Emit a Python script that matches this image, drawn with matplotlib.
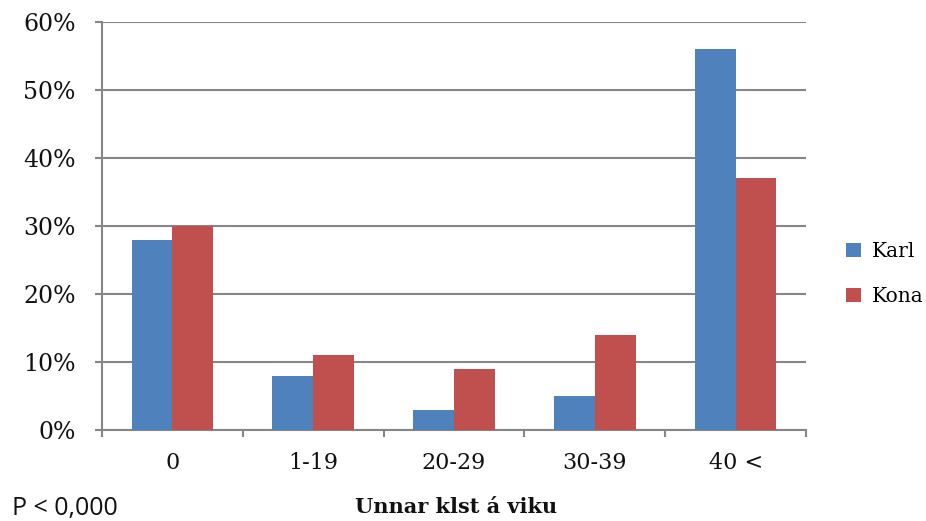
import matplotlib
matplotlib.use("Agg")
import matplotlib.pyplot as plt
import numpy as np
from matplotlib.ticker import FuncFormatter, FixedLocator, NullFormatter

categories = ["0", "1-19", "20-29", "30-39", "40 <"]
karl = [0.28, 0.08, 0.03, 0.05, 0.56]
kona = [0.30, 0.11, 0.09, 0.14, 0.37]
series_names = ["Karl", "Kona"]
y_ticks = [0.0, 0.1, 0.2, 0.3, 0.4, 0.5, 0.6]

BLUE = "#4F81BD"
RED = "#C0504D"
GREY = "#868686"
SERIF = ["DejaVu Serif"]

fig = plt.figure(figsize=(9.26, 5.21), dpi=100)
ax = fig.add_axes([102 / 926, 1 - 430 / 521, (806 - 102) / 926, (430 - 22) / 521])

x = np.arange(len(categories))
w = 0.29
ax.bar(x - w / 2, karl, width=w, color=BLUE, label=series_names[0], zorder=3)
ax.bar(x + w / 2, kona, width=w, color=RED, label=series_names[1], zorder=3)

ax.set_xlim(-0.5, len(categories) - 0.5)
ax.set_ylim(0, 0.6)

ax.yaxis.set_major_locator(FixedLocator(y_ticks))
ax.yaxis.set_major_formatter(FuncFormatter(lambda v, p: f"{v * 100:.0f}%"))
ax.grid(axis="y", color=GREY, linewidth=1.5, zorder=0)

# category labels centred, tick marks on the category boundaries
ax.set_xticks(x)
ax.set_xticklabels(categories)
ax.xaxis.set_minor_locator(FixedLocator(np.arange(-0.5, len(categories), 1.0)))
ax.xaxis.set_minor_formatter(NullFormatter())
ax.tick_params(axis="x", which="major", length=0, pad=16)
ax.tick_params(axis="x", which="minor", length=5, width=1.5, color=GREY, direction="out")
ax.tick_params(axis="y", length=5, width=1.5, color=GREY, direction="out", pad=14)

for lab in ax.get_xticklabels():
    lab.set_family(SERIF)
    lab.set_fontsize(16)
    lab.set_color("#111111")
for lab in ax.get_yticklabels():
    lab.set_family(SERIF)
    lab.set_fontsize(17)
    lab.set_color("#111111")

for s in ("top", "right"):
    ax.spines[s].set_visible(False)
for s in ("left", "bottom"):
    ax.spines[s].set_color(GREY)
    ax.spines[s].set_linewidth(1.5)

fig.legend(loc="upper left", bbox_to_anchor=(836 / 926, 1 - 232 / 521),
           frameon=False, prop={"family": SERIF, "size": 14.5},
           handlelength=0.75, handleheight=0.7, handletextpad=0.55,
           labelspacing=1.3, borderpad=0)

fig.text(456 / 926, 1 - 507 / 521, "Unnar klst á viku", ha="center", va="center",
         family=SERIF, fontsize=15, fontweight="bold", color="#111111")
fig.text(12 / 926, 1 - 508 / 521, "P < 0,000", ha="left", va="center",
         family=["Open Sans"], fontsize=18, color="#111111")

fig.savefig("out.png", dpi=100)
